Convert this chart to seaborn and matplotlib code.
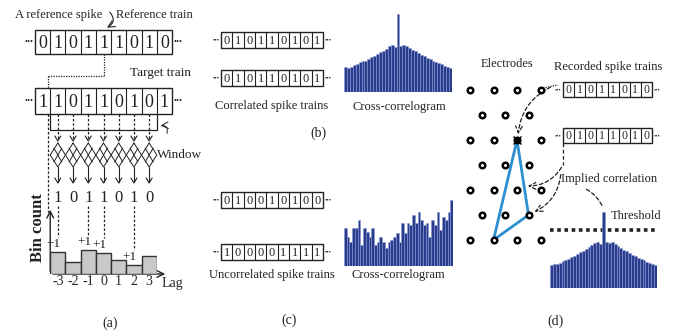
import numpy as np
import pandas as pd
import matplotlib
matplotlib.use("Agg")
import matplotlib.pyplot as plt
from matplotlib.patches import Rectangle, Polygon
import seaborn as sns

# ---- data ----
ref_train = [0, 1, 0, 1, 1, 1, 0, 1, 0]
target_train = [1, 1, 0, 1, 1, 0, 1, 0, 1]
window_products = [1, 0, 1, 1, 0, 1, 0]
lag_labels = ["-3", "-2", "-1", "0", "1", "2", "3"]
bin_counts = [22, 12, 24, 21, 14, 9, 18]

corr_train1 = [0, 1, 0, 1, 1, 0, 1, 0, 1]
corr_train2 = [0, 1, 0, 1, 1, 0, 1, 0, 1]
uncorr_train1 = [0, 1, 0, 0, 1, 0, 1, 0, 0]
uncorr_train2 = [1, 0, 0, 0, 0, 1, 1, 1, 1]
rec_train1 = [0, 1, 0, 1, 1, 0, 1, 0]
rec_train2 = [0, 1, 0, 1, 1, 0, 1, 0]

ccg_correlated = [25, 24, 25, 27, 28, 30, 31, 31, 33, 35, 36, 38, 40, 41, 43, 46, 47, 45,
                  78,
                  46, 47, 46, 44, 42, 41, 39, 37, 36, 34, 33, 31, 30, 29, 28, 26, 25, 24]
ccg_uncorrelated = [38, 29, 24, 38, 38, 46, 21, 38, 34, 29, 38, 21, 24, 29, 24, 18, 24, 26, 29, 33,
                    24, 43, 33, 43, 41, 51, 43, 54, 46, 41, 43, 29, 46, 41, 54, 36, 49, 46, 54, 66]
ccg_recorded = [23, 24, 24, 25, 27, 28, 29, 31, 32, 34, 36, 37, 39, 41, 43, 45, 46, 44,
                76,
                46, 45, 46, 44, 42, 40, 38, 37, 35, 33, 32, 30, 29, 28, 26, 25, 24, 23]

sns.set_theme(style="white")
plt.rcParams["font.family"] = ["Liberation Serif", "DejaVu Sans"]

W, H = 674, 336
INK = "#222222"
NAVY = "#283b8c"
BLUE = "#2b8fd2"

fig = plt.figure(figsize=(W / 100, H / 100), dpi=100)
fig.patch.set_facecolor("white")
ax = fig.add_axes([0, 0, 1, 1])
ax.set_xlim(0, W)
ax.set_ylim(H, 0)
ax.axis("off")


def label(x, y, s, fs=9, **kw):
    ax.text(x, y, s, ha="center", va="center", fontsize=fs, color=INK, **kw)


def digit(x, y, s, fs):
    # baseline placed so the digit is visually centred on y
    ax.text(x, y + 0.46 * fs, s, ha="center", va="baseline", fontsize=fs, color=INK)


def draw_train(x0, y0, x1, y1, bits, fs, dot_fs):
    n = len(bits)
    cw = (x1 - x0) / n
    ym = (y0 + y1) / 2
    ax.add_patch(Rectangle((x0, y0), x1 - x0, y1 - y0, fill=False, ec=INK, lw=1))
    for i in range(1, n):
        ax.plot([x0 + i * cw] * 2, [y0, y1], color=INK, lw=0.8)
    for i, b in enumerate(bits):
        digit(x0 + (i + 0.5) * cw, ym, str(b), fs)
    ax.text(x0 - 1.5, ym, "•••", ha="right", va="center", fontsize=dot_fs, color=INK)
    ax.text(x1 + 1.5, ym, "•••", ha="left", va="center", fontsize=dot_fs, color=INK)
    return [x0 + (i + 0.5) * cw for i in range(n)], cw


def inset(x0, y0, x1, y1):
    a = fig.add_axes([x0 / W, 1 - y1 / H, (x1 - x0) / W, (y1 - y0) / H])
    a.set_facecolor("none")
    return a


def draw_ccg(vals, x0, y0, x1, y1):
    a = inset(x0, y0, x1, y1)
    df = pd.DataFrame({"bin": np.arange(len(vals)), "count": vals})
    sns.barplot(data=df, x="bin", y="count", ax=a, color=NAVY, width=1.0,
                saturation=1, edgecolor="#8a98cf", linewidth=0.4)
    a.set_xlim(-0.5, len(vals) - 0.5)
    a.set_ylim(0, y1 - y0)
    a.axis("off")


def dashed(xs, ys, lw=0.9, ls=(0, (2, 1.5))):
    ax.plot(xs, ys, color=INK, lw=lw, ls=ls)


# ================= panel (a) =================
label(59, 15, "A reference spike", fs=9)
label(154, 15, "Reference train", fs=9)
ref_x, cw = draw_train(35, 30, 172, 54, ref_train, 13, 6)
ax.annotate("", xy=(ref_x[4] + 1, 29), xytext=(108, 10),
            arrowprops=dict(arrowstyle="->", color=INK, lw=0.8,
                            connectionstyle="arc3,rad=-0.7"))

# reference spike mapped to start of window on target train
win_left = 35 + cw
dashed([ref_x[4]] * 2, [54, 76], ls=(0, (1, 1)))
dashed([win_left - 2, ref_x[4]], [76, 76], ls=(0, (1, 1)))
dashed([win_left - 2] * 2, [76, 88], ls=(0, (1, 1)))

label(160, 73, "Target train", fs=9.5)
tgt_x, _ = draw_train(35, 88, 172, 114, target_train, 13, 6)

# window bracket
wx = tgt_x[1:8]
ax.plot([win_left, win_left, 35 + 8 * cw, 35 + 8 * cw], [114, 130, 130, 114], color=INK, lw=0.9)
ax.annotate("", xy=(35 + 8 * cw + 1, 126), xytext=(166, 136),
            arrowprops=dict(arrowstyle="->", color=INK, lw=0.7,
                            connectionstyle="arc3,rad=0.9"))
label(180, 155, "Window", fs=9.5)
dashed([win_left - 2] * 2, [114, 212])

for k, x in enumerate(wx):
    dashed([x, x], [114, 139])
    ax.plot([x - 3, x, x + 3], [136, 141, 136], color=INK, lw=0.8)
    hw = cw / 2
    ax.plot([x, x + hw, x, x - hw, x], [143, 155, 167, 155, 143], color=INK, lw=0.7)
    ax.plot([x - 4, x + 4], [148, 162], color=INK, lw=0.7)
    ax.plot([x + 4, x - 4], [148, 162], color=INK, lw=0.7)
    ax.plot([x, x], [167, 182], color=INK, lw=0.8)
    ax.plot([x - 3, x, x + 3], [178, 183, 178], color=INK, lw=0.8)
    digit(x, 196, str(window_products[k]), 12)
    if window_products[k] == 1:
        top = 274 - bin_counts[k]
        dashed([x, x], [206, top - 15])
        ax.text(x + 3, top - 8, "+1", ha="right", va="center", fontsize=9.5, color=INK)

# bin-count histogram
ha = inset(win_left, 230, 35 + 8 * cw, 274)
hist_df = pd.DataFrame({"lag": lag_labels, "count": bin_counts})
sns.barplot(data=hist_df, x="lag", y="count", order=lag_labels, ax=ha, color="#c9c9c9",
            saturation=1, width=1.0, edgecolor="#333333", linewidth=1)
ha.set_xlim(-0.5, 6.5)
ha.set_ylim(0, 44)
for s in ha.spines.values():
    s.set_visible(False)
ha.set_yticks([])
ha.set_xlabel("")
ha.set_ylabel("")
ha.tick_params(axis="x", length=0, pad=1, labelsize=10, labelcolor=INK)
ax.annotate("", xy=(win_left, 207), xytext=(win_left, 274.5),
            arrowprops=dict(arrowstyle="->", color=INK, lw=1))
ax.annotate("", xy=(168, 274), xytext=(win_left, 274),
            arrowprops=dict(arrowstyle="->", color=INK, lw=1))
label(38, 228, "Bin count", fs=12, rotation=90, fontweight="bold")
label(172, 283, "Lag", fs=10)
label(110, 323, "(a)", fs=10)

# ================= panel (b) =================
draw_train(221, 32, 323, 48, corr_train1, 9, 5)
draw_train(221, 70, 323, 86, corr_train2, 9, 5)
label(272, 106, "Correlated spike trains")
draw_ccg(ccg_correlated, 344, 10, 452, 92)
label(399, 107, "Cross-correlogram")
label(318, 133, "(b)", fs=10)

# ================= panel (c) =================
draw_train(221, 192, 323, 208, uncorr_train1, 9, 5)
draw_train(221, 244, 323, 260, uncorr_train2, 9, 5)
label(272, 275, "Uncorrelated spike trains")
draw_ccg(ccg_uncorrelated, 344, 196, 453, 266)
label(398, 275, "Cross-correlogram")
label(289, 320, "(c)", fs=10)

# ================= panel (d) =================
label(507, 64, "Electrodes")
label(608, 67, "Recorded spike trains")
draw_train(563, 82, 652, 97, rec_train1, 8.5, 4.5)
draw_train(563, 128, 652, 143, rec_train2, 8.5, 4.5)

ex, ey = [], []
for r in range(7):
    y = 90 + 25 * r
    xs = [470, 493.5, 517, 540.5] if r % 2 == 0 else [482, 505, 528.5]
    ex += xs
    ey += [y] * len(xs)
tri = [(517, 140), (528.5, 215), (493.5, 240)]
ax.add_patch(Polygon(tri, closed=True, fill=False, ec=BLUE, lw=2, zorder=4))
ax.scatter(ex, ey, s=16, facecolor="white", edgecolor="black", linewidth=1.8, zorder=5)
ax.plot(517, 140, marker="x", ms=6, color="black", mew=1, zorder=6)

dashed([543, 558], [88, 85], ls=(0, (1, 1)))
ax.annotate("", xy=(518, 137), xytext=(553, 86),
            arrowprops=dict(arrowstyle="->", color=INK, lw=0.9, ls=(0, (3, 2)),
                            connectionstyle="arc3,rad=0.3"))
dashed([563, 563], [143, 165], ls=(0, (3, 2)))
ax.annotate("", xy=(525, 186), xytext=(563, 165),
            arrowprops=dict(arrowstyle="->", color=INK, lw=0.9, ls=(0, (3, 2)),
                            connectionstyle="arc3,rad=-0.3"))
ax.annotate("", xy=(532, 213), xytext=(561, 172),
            arrowprops=dict(arrowstyle="->", color=INK, lw=0.9, ls=(0, (3, 2)),
                            connectionstyle="arc3,rad=-0.3"))
label(609, 179, "Implied correlation")
ax.annotate("", xy=(604, 210), xytext=(584, 188),
            arrowprops=dict(arrowstyle="-", color=INK, lw=0.9, ls=(0, (3, 2)),
                            connectionstyle="arc3,rad=-0.2"))
label(636, 216, "Threshold")
draw_ccg(ccg_recorded, 550, 208, 657, 288)
ax.plot([550, 658], [230, 230], color=INK, lw=2.6, ls=(0, (1, 1)))
label(556, 321, "(d)", fs=10)

fig.savefig("out.png", dpi=100, facecolor="white")
